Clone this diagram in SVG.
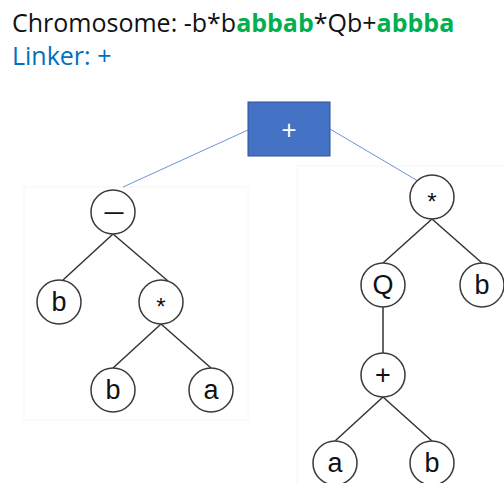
<svg xmlns="http://www.w3.org/2000/svg" width="504" height="483" viewBox="0 0 504 483">
<style>
.t{font-family:"Open Sans","Noto Sans","Liberation Sans",sans-serif;font-size:25px}
.g{fill:#00B050;font-weight:bold}
.n circle{fill:#fff;stroke:#3a3a3a;stroke-width:1.5}
.n text{font-family:"Liberation Sans",Arial,sans-serif;font-size:27px;fill:#111;text-anchor:middle}
.e line{stroke:#333;stroke-width:1.5}
.l line{stroke:#6F93D6;stroke-width:1}
</style>
<rect width="504" height="483" fill="#fff"/>
<g id="frames" fill="none" stroke="#f6f6f6" stroke-width="1">
<rect x="24" y="187" width="224" height="233"/>
<rect x="297" y="166" width="210" height="320"/>
</g>
<text class="t" x="12" y="32" fill="#111">Chromosome: -b*b<tspan class="g">abbab</tspan>*Qb+<tspan class="g">abbba</tspan></text>
<text class="t" x="12" y="65" fill="#0070C0">Linker: +</text>
<g class="l" id="linker-edges">
<line x1="248" y1="130" x2="123" y2="187"/>
<line x1="330" y1="129" x2="418" y2="181"/>
</g>
<g class="e" id="edges">
<line x1="113" y1="234" x2="63" y2="280"/>
<line x1="113" y1="234" x2="168" y2="281"/>
<line x1="161" y1="324" x2="113" y2="368"/>
<line x1="161" y1="324" x2="211" y2="368"/>
<line x1="432" y1="219" x2="383" y2="263"/>
<line x1="432" y1="219" x2="482" y2="263"/>
<line x1="383" y1="307" x2="383" y2="353"/>
<line x1="383" y1="397" x2="335" y2="441"/>
<line x1="383" y1="397" x2="432" y2="441"/>
</g>
<g id="linker">
<rect x="248" y="102" width="82" height="54" fill="#4472C4" stroke="#2F528F" stroke-width="1"/>
<text x="289" y="140" font-family="Open Sans,Liberation Sans,sans-serif" font-size="27" fill="#fff" text-anchor="middle">+</text>
</g>
<g class="n" id="n-minus"><circle cx="113" cy="212" r="22"/><text x="114" y="218" style="font-size:19px;font-weight:bold">—</text></g>
<g class="n" id="n-b1"><circle cx="59" cy="302" r="22"/><text x="59" y="311">b</text></g>
<g class="n" id="n-mul1"><circle cx="161" cy="302" r="22"/><text x="161" y="315" style="font-size:24px">*</text></g>
<g class="n" id="n-b2"><circle cx="113" cy="390" r="22"/><text x="113" y="399">b</text></g>
<g class="n" id="n-a1"><circle cx="211" cy="390" r="22"/><text x="211" y="399">a</text></g>
<g class="n" id="n-mul2"><circle cx="432" cy="197" r="22"/><text x="432" y="210" style="font-size:24px">*</text></g>
<g class="n" id="n-Q"><circle cx="383" cy="285" r="22"/><text x="383" y="294">Q</text></g>
<g class="n" id="n-b3"><circle cx="482" cy="285" r="22"/><text x="482" y="294">b</text></g>
<g class="n" id="n-plus"><circle cx="383" cy="375" r="22"/><text x="383" y="384">+</text></g>
<g class="n" id="n-a2"><circle cx="335" cy="463" r="22"/><text x="335" y="472">a</text></g>
<g class="n" id="n-b4"><circle cx="432" cy="463" r="22"/><text x="432" y="472">b</text></g>
</svg>
